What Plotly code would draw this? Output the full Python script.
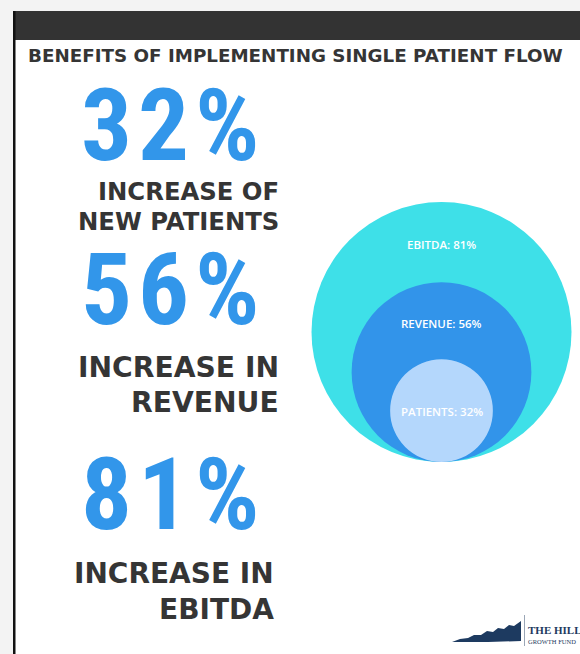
import plotly.graph_objects as go

# ---- data ----
metrics = ["EBITDA", "REVENUE", "PATIENTS"]
values = [81, 56, 32]
captions = {
    "PATIENTS": ["INCREASE OF", "NEW PATIENTS"],
    "REVENUE": ["INCREASE IN", "REVENUE"],
    "EBITDA": ["INCREASE IN", "EBITDA"],
}
title_text = "BENEFITS OF IMPLEMENTING SINGLE PATIENT FLOW"
headline_order = ["PATIENTS", "REVENUE", "EBITDA"]

# ---- styles / layout ----
W, H = 580, 654
circle_colors = {"EBITDA": "#3ee0e8", "REVENUE": "#3294ea", "PATIENTS": "#b4d7fc"}
label_offsets = {"EBITDA": 42, "REVENUE": 41, "PATIENTS": 52}
px_per_unit = 130 / 81
cx, base_y = 441.5, 462
big_blue = "#3296ea"
dark = "#353535"

big_y = {"PATIENTS": 125, "REVENUE": 289, "EBITDA": 494}
cap_y = {"PATIENTS": (191, 221.5), "REVENUE": (367, 402.5), "EBITDA": (573, 609)}
cap_right = {"PATIENTS": 281, "REVENUE": 281, "EBITDA": 276}
cap_size = {"PATIENTS": 24.3, "REVENUE": 28.2, "EBITDA": 28}

SPACER = '<span style="font-size:26px"> </span>'


def spaced(s):
    return SPACER.join(list(s))


fig = go.Figure()
fig.add_trace(go.Scatter(x=[0, W], y=[0, H], mode="markers",
                         marker=dict(opacity=0), hoverinfo="skip", showlegend=False))

shapes = []
# frame
shapes.append(dict(type="rect", x0=0, x1=W, y0=0, y1=H, fillcolor="#f3f3f3", line_width=0, layer="below"))
shapes.append(dict(type="rect", x0=13, x1=W, y0=40, y1=H, fillcolor="white", line_width=0, layer="below"))
shapes.append(dict(type="rect", x0=13, x1=W, y0=11, y1=40, fillcolor="#333333", line_width=0, layer="below"))
shapes.append(dict(type="rect", x0=13, x1=15.5, y0=11, y1=H, fillcolor="#111111", line_width=0, layer="below"))

annotations = []
# nested circles
for name, v in zip(metrics, values):
    r = v * px_per_unit
    shapes.append(dict(type="circle", xref="x", yref="y", x0=cx - r, x1=cx + r,
                       y0=base_y - 2 * r, y1=base_y, fillcolor=circle_colors[name],
                       line=dict(width=0), layer="above"))
for name, v in zip(metrics, values):
    r = v * px_per_unit
    annotations.append(dict(x=cx, y=base_y - 2 * r + label_offsets[name], xref="x", yref="y",
                            text=f"{name}: {v}%", showarrow=False, xanchor="center", yanchor="middle",
                            font=dict(family="Open Sans, sans-serif", size=11.5, color="white", weight=600)))

# headline numbers & captions
for name in headline_order:
    v = values[metrics.index(name)]
    annotations.append(dict(x=170, y=big_y[name], xref="x", yref="y", text=f"<b>{spaced(f'{v}%')}</b>",
                            showarrow=False, xanchor="center", yanchor="middle",
                            font=dict(family="Roboto Condensed, Roboto, sans-serif",
                                      size=101, color=big_blue)))
    for line, yy in zip(captions[name], cap_y[name]):
        annotations.append(dict(x=cap_right[name], y=yy, xref="x", yref="y", text=f"<b>{line}</b>",
                                showarrow=False, xanchor="right", yanchor="middle",
                                font=dict(family="DejaVu Sans, sans-serif", size=cap_size[name], color=dark)))

# title
annotations.append(dict(x=26, y=55, xref="x", yref="y", text=f"<b>{title_text}</b>", showarrow=False,
                        xanchor="left", yanchor="middle",
                        font=dict(family="DejaVu Sans, sans-serif", size=18.3, color=dark)))

# logo
navy = "#1d3a60"
shapes.append(dict(type="path", xref="x", yref="y",
                   path="M 452 642 L 460 639 L 468 638 L 474 635 L 481 635 L 487 631 L 493 632 L 498 628 L 504 629 L 509 625 L 514 626 L 521 621 L 521 641 L 488 642 Z",
                   fillcolor=navy, line_width=0))
shapes.append(dict(type="line", xref="x", yref="y", x0=524.5, x1=524.5, y0=615, y1=646,
                   line=dict(color="#9aa6b6", width=1)))
annotations.append(dict(x=526, y=630, xref="x", yref="y", text="<b>THE HILL</b>", showarrow=False,
                        xanchor="left", yanchor="middle",
                        font=dict(family="Liberation Serif, serif", size=11, color=navy)))
annotations.append(dict(x=526, y=641, xref="x", yref="y", text="GROWTH FUND", showarrow=False,
                        xanchor="left", yanchor="middle",
                        font=dict(family="Liberation Serif, serif", size=6.5, color=navy)))

fig.update_layout(
    width=W, height=H, margin=dict(l=0, r=0, t=0, b=0),
    paper_bgcolor="white", plot_bgcolor="white",
    xaxis=dict(range=[0, W], visible=False, fixedrange=True),
    yaxis=dict(range=[H, 0], visible=False, fixedrange=True),
    shapes=shapes, annotations=annotations, showlegend=False,
)
fig.write_html("out.html")
